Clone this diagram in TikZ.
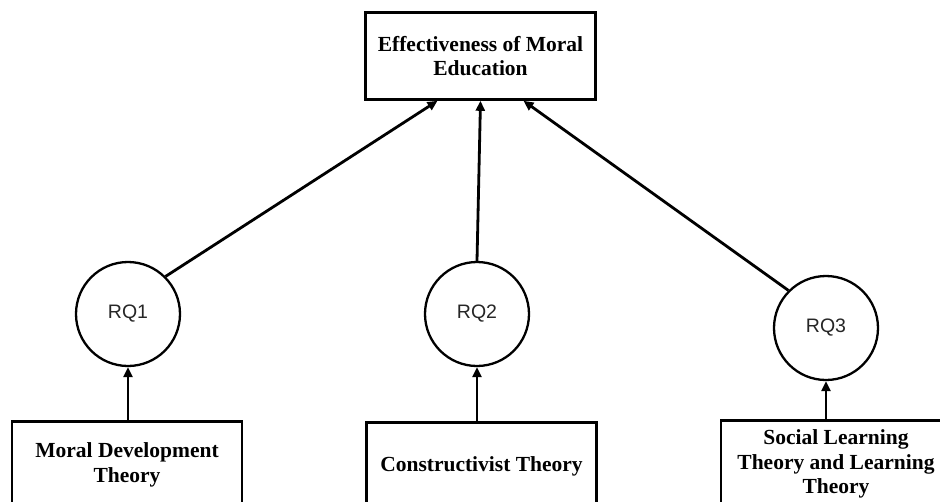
\documentclass[tikz,border=0pt]{standalone}
\usepackage{fontspec}
\setmainfont{Liberation Serif}
\setsansfont{Liberation Sans}
\usetikzlibrary{arrows.meta}
\tikzset{
  theorybox/.style={draw, line width=2.6pt, rectangle, minimum width=230pt, minimum height=87pt, align=center, inner sep=0pt,
    font=\fontsize{21.5}{24.5}\selectfont\bfseries},
  rqcircle/.style={draw, line width=2.3pt, circle, minimum size=104pt, inner sep=0pt,
    font=\fontsize{19.5}{22}\selectfont\sffamily, text=black!85},
  arr/.style={line width=2.8pt, -{Triangle[length=10pt,width=9pt]}}
}
\begin{document}
\begin{tikzpicture}[x=1pt,y=1pt]
\clip (0,0) rectangle (940,-501);
\fill[white] (0,0) rectangle (940,-501);
\node[theorybox] (top) at (480.5,-56) {Effectiveness of Moral\\Education};
\node[rqcircle] (q1) at (128,-314) {RQ1};
\node[rqcircle] (q2) at (477,-314) {RQ2};
\node[rqcircle] (q3) at (826,-328) {RQ3};
\node[theorybox] (b1) at (127,-465) {Moral Development\\Theory};
\node[theorybox] (b2) at (481.5,-466) {Constructivist Theory};
\node[theorybox] (b3) at (836,-464) {Social Learning\\Theory and Learning\\Theory};
\draw[arr] (b1.north -| q1) -- (q1.south);
\draw[arr] (b2.north -| q2) -- (q2.south);
\draw[arr] (b3.north -| q3) -- (q3.south);
\draw[arr] (q1.45) -- ([xshift=-43pt]top.south);
\draw[arr] (q2.north) -- ([xshift=0pt]top.south);
\draw[arr] (q3.135) -- ([xshift=43pt]top.south);
\end{tikzpicture}
\end{document}
